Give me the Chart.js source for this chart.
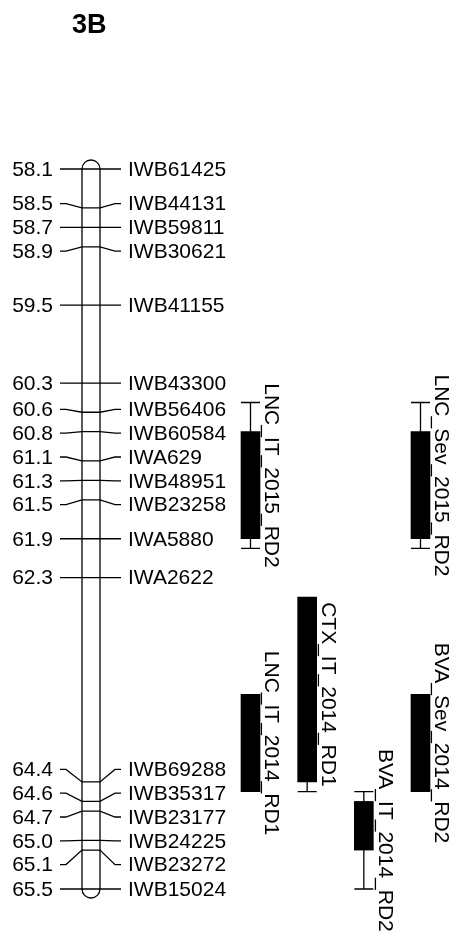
<!DOCTYPE html>
<html>
<head>
<meta charset="utf-8">
<script src="https://cdn.jsdelivr.net/npm/chart.js@4"></script>
<style>
html,body{margin:0;padding:0;background:#fff;}
#wrap{width:454px;height:932px;}
</style>
</head>
<body>
<div id="wrap"><canvas id="c" width="454" height="932"></canvas></div>
<script>
// ---- data ----
const chartTitle = "3B";
const markerNames = ["IWB61425","IWB44131","IWB59811","IWB30621","IWB41155","IWB43300","IWB56406","IWB60584","IWA629","IWB48951","IWB23258","IWA5880","IWA2622","IWB69288","IWB35317","IWB23177","IWB24225","IWB23272","IWB15024"];
const markerPositions = [58.1,58.5,58.7,58.9,59.5,60.3,60.6,60.8,61.1,61.3,61.5,61.9,62.3,64.4,64.6,64.7,65.0,65.1,65.5];
const qtlNames = ["LNC_IT_2015_RD2","LNC_Sev_2015_RD2","CTX_IT_2014_RD1","LNC_IT_2014_RD1","BVA_Sev_2014_RD2","BVA_IT_2014_RD2"];
const qtlOuterStart = [60.5,60.5,62.5,63.5,63.5,64.5];
const qtlInnerStart = [60.8,60.8,62.5,63.5,63.5,64.6];
const qtlInnerEnd   = [61.9,61.9,64.4,64.5,64.5,65.1];
const qtlOuterEnd   = [62.0,62.0,64.5,64.5,64.5,65.5];
const qtlColumn     = [0,3,1,0,3,2];

// ---- layout ----
const FONT = '"Liberation Sans", Arial, Helvetica, sans-serif';
const LW = 1.3;
const CH_L = 82, CH_R = 100;
const NUM_X = 53, NAME_X = 128;
const LABEL_GAP = 23.8;
const BAR_W = 19;
const QTL_LABEL_OFFSET = 15;

function spreadLabels(ys, d){
  let groups = ys.map((y,i)=>({idx:[i], c:y}));
  let changed = true;
  while(changed){
    changed = false;
    for(let g=0; g<groups.length-1; g++){
      const A = groups[g], B = groups[g+1];
      const aLast = A.c + (A.idx.length-1)/2*d;
      const bFirst = B.c - (B.idx.length-1)/2*d;
      if(bFirst - aLast < d - 0.01){
        const idx = A.idx.concat(B.idx);
        const c = idx.reduce((s,i)=>s+ys[i],0)/idx.length;
        groups.splice(g,2,{idx, c});
        changed = true; break;
      }
    }
  }
  const out = new Array(ys.length);
  groups.forEach(G=>{
    G.idx.forEach((i,k)=>{ out[i] = G.c + (k-(G.idx.length-1)/2)*d; });
  });
  return out;
}

const mapPlugin = {
  id:'mapPlugin',
  beforeDatasetsDraw(chart){
    const ctx = chart.ctx, y = chart.scales.y;
    const top = y.getPixelForValue(markerPositions[0]);
    const bot = y.getPixelForValue(markerPositions[markerPositions.length-1]);
    const r = (CH_R-CH_L)/2, cx = (CH_L+CH_R)/2;
    ctx.save();
    ctx.strokeStyle='#000'; ctx.lineWidth=LW;
    // chromosome
    ctx.beginPath();
    ctx.moveTo(CH_L, top);
    ctx.arc(cx, top, r, Math.PI, 0, false);
    ctx.lineTo(CH_R, bot);
    ctx.arc(cx, bot, r, 0, Math.PI, false);
    ctx.closePath();
    ctx.stroke();
    // markers
    const trueY = markerPositions.map(v=>y.getPixelForValue(v));
    const labY = spreadLabels(trueY, LABEL_GAP);
    ctx.font = '21px ' + FONT;
    ctx.fillStyle='#000';
    ctx.textBaseline='middle';
    markerPositions.forEach((v,i)=>{
      const ty = trueY[i], ly = labY[i];
      ctx.beginPath();
      ctx.moveTo(60, ly); ctx.lineTo(66, ly); ctx.lineTo(CH_L, ty);
      ctx.lineTo(CH_R, ty); ctx.lineTo(115, ly); ctx.lineTo(121, ly);
      ctx.stroke();
      ctx.textAlign='right';
      ctx.fillText(v.toFixed(1), NUM_X, ly+1);
      ctx.textAlign='left';
      ctx.fillText(markerNames[i], NAME_X, ly+1);
    });
    // title
    ctx.font = 'bold 27px ' + FONT;
    ctx.textAlign='left'; ctx.textBaseline='alphabetic';
    ctx.fillText(chartTitle, 72, 33);
    ctx.restore();
  },
  afterDatasetsDraw(chart){
    const ctx = chart.ctx, y = chart.scales.y, x = chart.scales.x;
    ctx.save();
    ctx.strokeStyle='#000'; ctx.fillStyle='#000'; ctx.lineWidth=LW;
    qtlNames.forEach((name,i)=>{
      const cx = x.getPixelForValue(qtlColumn[i]);
      const os = y.getPixelForValue(qtlOuterStart[i]);
      const is = y.getPixelForValue(qtlInnerStart[i]);
      const ie = y.getPixelForValue(qtlInnerEnd[i]);
      const oe = y.getPixelForValue(qtlOuterEnd[i]);
      ctx.beginPath();
      if(qtlOuterStart[i] < qtlInnerStart[i]){
        ctx.moveTo(cx, os); ctx.lineTo(cx, is);
        ctx.moveTo(cx-BAR_W/2, os); ctx.lineTo(cx+BAR_W/2, os);
      }
      if(qtlOuterEnd[i] > qtlInnerEnd[i]){
        ctx.moveTo(cx, ie); ctx.lineTo(cx, oe);
        ctx.moveTo(cx-BAR_W/2, oe); ctx.lineTo(cx+BAR_W/2, oe);
      }
      ctx.stroke();
      // label
      ctx.save();
      ctx.translate(cx+QTL_LABEL_OFFSET, (os+oe)/2);
      ctx.rotate(Math.PI/2);
      ctx.font = '21px ' + FONT;
      ctx.textAlign='center'; ctx.textBaseline='alphabetic';
      ctx.fillText(name, 0, 0);
      ctx.restore();
    });
    ctx.restore();
  }
};

const xMin = -4.4206, xMax = 3.5912;
const yMin = 56.363, yMax = 65.942;

new Chart(document.getElementById('c'), {
  type:'bar',
  data:{
    datasets:[{
      data: qtlNames.map((n,i)=>({x:qtlColumn[i], y:[qtlInnerStart[i], qtlInnerEnd[i]]})),
      backgroundColor:'#000',
      borderColor:'#000',
      borderWidth:0,
      borderSkipped:false,
      barThickness:BAR_W,
      grouped:false
    }]
  },
  options:{
    responsive:false,
    animation:false,
    layout:{padding:0},
    plugins:{legend:{display:false}, tooltip:{enabled:false}, title:{display:false}},
    scales:{
      x:{type:'linear', min:xMin, max:xMax, display:false, offset:false},
      y:{type:'linear', min:yMin, max:yMax, reverse:true, display:false}
    }
  },
  plugins:[mapPlugin]
});
</script>
</body>
</html>
